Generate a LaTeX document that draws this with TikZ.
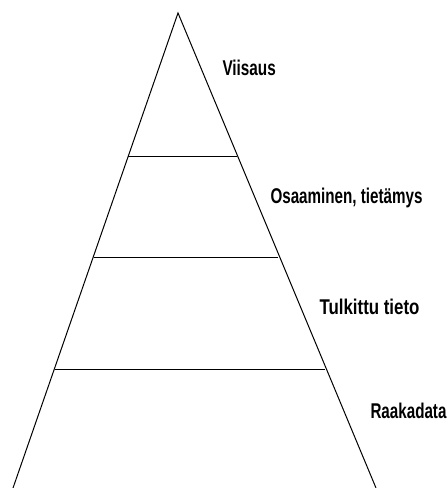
\documentclass[tikz,border=0pt]{standalone}
\usepackage{fontspec}
\setmainfont{Liberation Sans}
\usetikzlibrary{positioning,calc}

% squeeze a label to the given width, keeping its height
\newcommand{\fitlbl}[2]{\resizebox{#1}{\height}{#2}}

\begin{document}
\begin{tikzpicture}[x=0.75pt, y=-0.75pt, line width=0.75pt,
  lbl/.style={anchor=west, inner sep=0pt, font=\bfseries\fontsize{16}{17}\selectfont}]
\useasboundingbox (0,0) rectangle (448,488);
% pyramid
\coordinate (apex) at (178,13);
\coordinate (base-l) at (13,488);
\coordinate (base-r) at (376,488);
\draw (base-l) -- (apex) -- (base-r);

% levels
\coordinate (l1-l) at (128,157);
\coordinate (l1-r) at (237,157);
\coordinate (l2-l) at (94,257);
\coordinate (l2-r) at (278,257);
\coordinate (l3-l) at (55,369);
\coordinate (l3-r) at (325,369);
\draw (l1-l) -- (l1-r);
\draw (l2-l) -- (l2-r);
\draw (l3-l) -- (l3-r);

% labels
\node (viisaus) [lbl] at (222,68) {\fitlbl{40pt}{Viisaus}};
\node (osaaminen) [lbl] at (270,198) {\fitlbl{114pt}{Osaaminen, tietämys}};
\node (tulkittu) [lbl] at (319,307) {\fitlbl{75pt}{Tulkittu tieto}};
\node (raakadata) [lbl] at (370,411) {\fitlbl{57pt}{Raakadata}};
\end{tikzpicture}
\end{document}
